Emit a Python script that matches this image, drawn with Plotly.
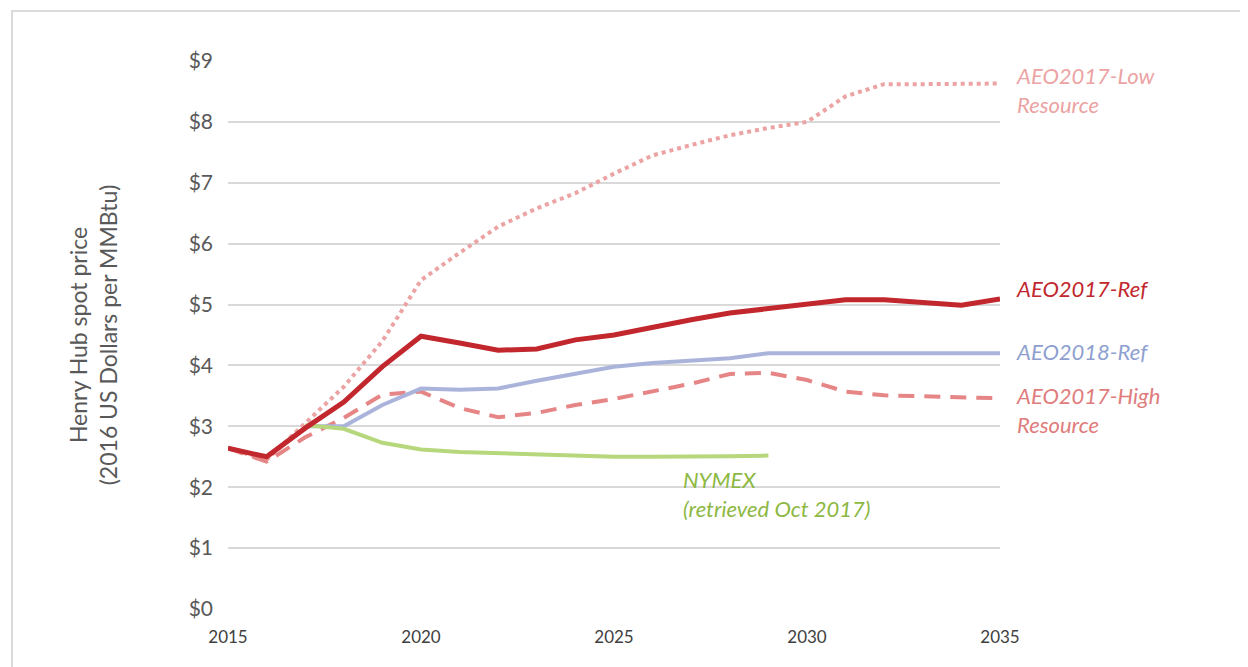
import plotly.graph_objects as go

years = list(range(2015, 2036))
aeo2017_ref = [2.64, 2.50, 2.97, 3.40, 3.98, 4.48, 4.37, 4.25, 4.27, 4.42, 4.50, 4.63, 4.75, 4.86, 4.94, 5.00, 5.08, 5.08, 5.03, 4.99, 5.09]
aeo2017_low = [2.64, 2.45, 3.05, 3.65, 4.40, 5.40, 5.85, 6.28, 6.58, 6.83, 7.15, 7.45, 7.62, 7.78, 7.90, 8.00, 8.42, 8.62, 8.62, 8.62, 8.63]
aeo2017_high = [2.64, 2.42, 2.82, 3.14, 3.52, 3.57, 3.30, 3.15, 3.22, 3.35, 3.45, 3.58, 3.70, 3.86, 3.88, 3.76, 3.57, 3.51, 3.49, 3.48, 3.46]
years_2018 = list(range(2017, 2036))
aeo2018_ref = [3.00, 3.00, 3.35, 3.62, 3.60, 3.62, 3.75, 3.86, 3.98, 4.04, 4.08, 4.12, 4.20, 4.20, 4.20, 4.20, 4.20, 4.20, 4.20]
years_nymex = list(range(2017, 2030))
nymex = [3.02, 2.96, 2.73, 2.62, 2.58, 2.56, 2.54, 2.52, 2.50, 2.50, 2.50, 2.51, 2.52]

y_ticks = list(range(0, 10))
y_tick_labels = [f"${v}" for v in y_ticks]
x_ticks = [2015, 2020, 2025, 2030, 2035]

FONT = "Lato"

fig = go.Figure()
fig.add_trace(go.Scatter(x=years, y=aeo2017_low, mode="lines",
                         line=dict(color="#EBA3A3", width=4, dash="dot"), name="AEO2017-Low Resource"))
fig.add_trace(go.Scatter(x=years, y=aeo2017_high, mode="lines",
                         line=dict(color="#E68585", width=4, dash="16px,10px"), name="AEO2017-High Resource"))
fig.add_trace(go.Scatter(x=years_2018, y=aeo2018_ref, mode="lines",
                         line=dict(color="#AAB4DB", width=4), name="AEO2018-Ref"))
fig.add_trace(go.Scatter(x=years_nymex, y=nymex, mode="lines",
                         line=dict(color="#B6D77B", width=4), name="NYMEX"))
fig.add_trace(go.Scatter(x=years, y=aeo2017_ref, mode="lines",
                         line=dict(color="#C1272D", width=5), name="AEO2017-Ref"))

ann = [
    (2035, 8.52, "AEO2017-Low<br>Resource", "#EBA3A3"),
    (2035, 5.26, "AEO2017-Ref", "#C1272D"),
    (2035, 4.23, "AEO2018-Ref", "#8E9FD0"),
    (2035, 3.27, "AEO2017-High<br>Resource", "#E07C7C"),
]
for x, y, t, c in ann:
    fig.add_annotation(x=x, y=y, text=t, xanchor="left", xshift=14, showarrow=False,
                       align="left", font=dict(family=FONT, size=22, color=c, style="italic"))
fig.add_annotation(x=2029, y=2.38, text="NYMEX<br>(retrieved Oct 2017)", xanchor="left", xshift=-87,
                   yanchor="top", showarrow=False, align="left",
                   font=dict(family=FONT, size=22, color="#8DB843", style="italic"))

fig.add_shape(type="rect", xref="paper", yref="paper", x0=-0.2798, x1=1.35, y0=-0.2, y1=1.0912,
              line=dict(color="#DADADA", width=2), layer="below")

fig.update_layout(
    width=1240, height=659,
    margin=dict(l=220, r=248, t=53, b=58),
    paper_bgcolor="white", plot_bgcolor="white",
    showlegend=False,
    font=dict(family=FONT, color="#595959"),
    xaxis=dict(range=[2015, 2035], tickvals=x_ticks, showgrid=False, zeroline=False,
               showline=False, ticks="", tickfont=dict(size=17, color="#404040"),
               ticklabelstandoff=16),
    yaxis=dict(range=[0, 9], tickvals=y_ticks, ticktext=y_tick_labels, showgrid=True,
               gridcolor="#D9D9D9", gridwidth=2, zeroline=False, showline=False, ticks="",
               tickfont=dict(size=21, color="#595959"), ticklabelstandoff=14,
               title=dict(text="Henry Hub spot price<br>(2016 US Dollars per MMBtu)",
                          font=dict(size=23, color="#595959"), standoff=64)),
)
fig.write_html("out.html")
